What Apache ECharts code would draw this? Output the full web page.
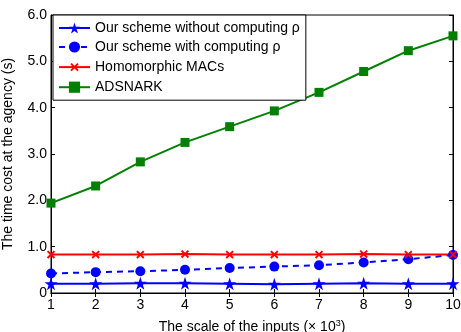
<!DOCTYPE html>
<html>
<head>
<meta charset="utf-8">
<script src="https://cdn.jsdelivr.net/npm/echarts@6/dist/echarts.min.js"></script>
<style>
  html, body { margin: 0; padding: 0; background: #fff; }
  #chart { width: 461px; height: 332px; }
</style>
</head>
<body>
<div id="chart"></div>
<script>
// Input scale (x 10^3)
const scales = [1, 2, 3, 4, 5, 6, 7, 8, 9, 10];
// Time cost at the agency (s)
const withoutRho = [0.20, 0.20, 0.21, 0.21, 0.20, 0.19, 0.20, 0.21, 0.20, 0.20];
const withRho = [0.42, 0.45, 0.47, 0.50, 0.54, 0.57, 0.60, 0.66, 0.73, 0.82];
const homomorphicMACs = [0.83, 0.83, 0.83, 0.84, 0.83, 0.83, 0.83, 0.84, 0.83, 0.83];
const adsnark = [1.94, 2.31, 2.83, 3.25, 3.59, 3.93, 4.33, 4.78, 5.23, 5.55];
const yTicks = [0, 1, 2, 3, 4, 5, 6];

const starPath = 'path://M50,0L61.8,35.3L100,35.3L69.1,57.1L80.9,92.4L50,70.6L19.1,92.4L30.9,57.1L0,35.3L38.2,35.3Z';
// Cross marker with empty margin so it stays small in the legend too
const crossPath = 'path://M-3,-3L-3,-3M13,13L13,13M0,0L10,10M10,0L0,10';

const font = 'Liberation Sans, Arial, sans-serif';
const chart = echarts.init(document.getElementById('chart'));

const pairs = arr => scales.map((s, i) => [s, arr[i]]);

chart.setOption({
  animation: false,
  textStyle: { fontFamily: font },
  grid: {
    left: 51, right: 8, top: 15, bottom: 39,
    containLabel: false, outerBoundsMode: 'none',
    show: true, borderColor: '#000', borderWidth: 1
  },
  legend: {
    left: 53, top: 15, orient: 'vertical',
    itemWidth: 31, itemHeight: 14, itemGap: 5,
    padding: [6, 6, 6, 5],
    borderColor: '#000', borderWidth: 1, backgroundColor: '#fff',
    textStyle: { fontSize: 14, color: '#000', fontFamily: font },
    data: ['Our scheme without computing ρ', 'Our scheme with computing ρ', 'Homomorphic MACs', 'ADSNARK']
  },
  xAxis: [{
    type: 'value', min: 1, max: 10, interval: 1,
    name: '{a|The scale of the inputs (× 10}{s|3}{a|)}',
    nameLocation: 'middle', nameGap: 26,
    nameTextStyle: { rich: {
      a: { fontSize: 14, color: '#000', fontFamily: font },
      s: { fontSize: 9, color: '#000', fontFamily: font, verticalAlign: 'top', padding: [0, 0, 7, 0] }
    } },
    axisLine: { lineStyle: { color: '#000' } },
    axisTick: { inside: true, length: 4, lineStyle: { color: '#000' } },
    axisLabel: { fontSize: 14, color: '#000', margin: 5 },
    splitLine: { show: false }
  }, {
    type: 'value', min: 1, max: 10, interval: 1, position: 'top',
    axisLine: { lineStyle: { color: '#000' } },
    axisTick: { inside: true, length: 4, lineStyle: { color: '#000' } },
    axisLabel: { show: false }, splitLine: { show: false }
  }],
  yAxis: [{
    type: 'value', min: yTicks[0], max: yTicks[yTicks.length - 1], interval: 1,
    name: 'The time cost at the agency (s)',
    nameLocation: 'middle', nameGap: 36,
    nameTextStyle: { fontSize: 14, color: '#000' },
    axisLine: { lineStyle: { color: '#000' } },
    axisTick: { inside: true, length: 4, lineStyle: { color: '#000' } },
    axisLabel: { fontSize: 14, color: '#000', margin: 4, formatter: v => v === 0 ? '0' : v.toFixed(1) },
    splitLine: { show: false }
  }, {
    type: 'value', min: yTicks[0], max: yTicks[yTicks.length - 1], interval: 1, position: 'right',
    axisLine: { lineStyle: { color: '#000' } },
    axisTick: { inside: true, length: 4, lineStyle: { color: '#000' } },
    axisLabel: { show: false }, splitLine: { show: false }
  }],
  series: [{
    name: 'Our scheme without computing ρ', type: 'line', data: pairs(withoutRho),
    symbol: starPath, symbolSize: 13, showAllSymbol: true,
    lineStyle: { color: '#0000ff', width: 2 }, itemStyle: { color: '#0000ff' }
  }, {
    name: 'Our scheme with computing ρ', type: 'line', data: pairs(withRho),
    symbol: 'circle', symbolSize: 10,
    lineStyle: { color: '#0000ff', width: 2, type: [6, 5] }, itemStyle: { color: '#0000ff' }
  }, {
    name: 'Homomorphic MACs', type: 'line', data: pairs(homomorphicMACs),
    symbol: crossPath, symbolSize: 11,
    lineStyle: { color: '#ff0000', width: 2 },
    itemStyle: { color: 'none', borderColor: '#ff0000', borderWidth: 2 }
  }, {
    name: 'ADSNARK', type: 'line', data: pairs(adsnark),
    symbol: 'rect', symbolSize: 9,
    lineStyle: { color: '#008000', width: 2 }, itemStyle: { color: '#008000' }
  }]
});
</script>
</body>
</html>
